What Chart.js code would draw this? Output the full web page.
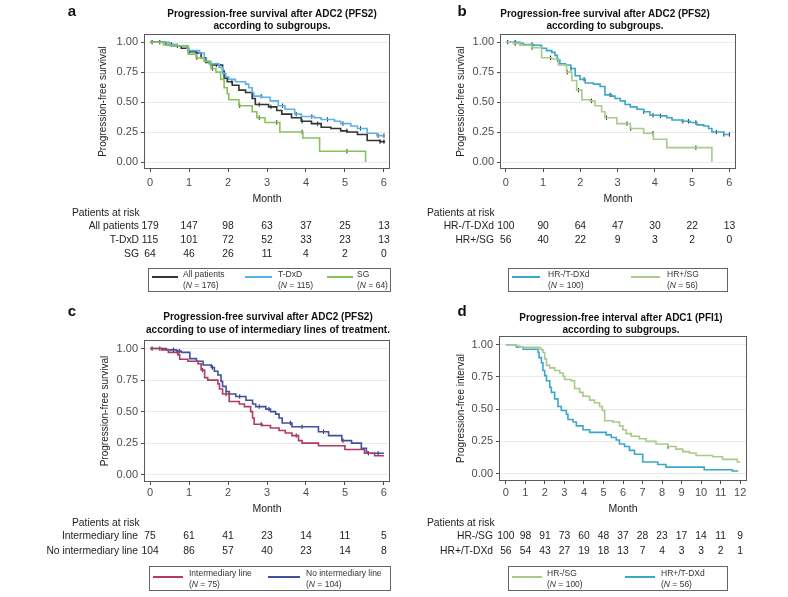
<!DOCTYPE html>
<html><head><meta charset="utf-8">
<script src="https://cdn.jsdelivr.net/npm/chart.js@4.4.0/dist/chart.umd.min.js"></script>
<style>
html,body{margin:0;padding:0;background:#fff;width:788px;height:597px;overflow:hidden;}
canvas{position:absolute;}
</style></head><body>
<script>
// ---------- tick labels ----------
const monthTicks6 = [0, 1, 2, 3, 4, 5, 6];
const monthTicks12 = [0, 1, 2, 3, 4, 5, 6, 7, 8, 9, 10, 11, 12];
const survivalTicks = [0, 0.25, 0.5, 0.75, 1];

// ---------- Panel a ----------
const aAllT = [0, 0.4, 0.6, 0.8, 0.98, 1.18, 1.31, 1.43, 1.55, 1.86, 1.9, 1.98, 2.11, 2.28, 2.45, 2.62, 2.7, 3.04, 3.25, 3.38, 3.63, 3.88, 4.14, 4.39, 4.64, 4.89, 5.06, 5.32, 5.57, 5.9, 6.03];
const aAllS = [1, 0.98, 0.97, 0.95, 0.92, 0.91, 0.87, 0.83, 0.81, 0.76, 0.70, 0.67, 0.64, 0.60, 0.58, 0.53, 0.48, 0.46, 0.43, 0.40, 0.37, 0.34, 0.32, 0.29, 0.28, 0.26, 0.25, 0.23, 0.18, 0.17, 0.17];
const aTdxdT = [0, 0.5, 0.7, 0.95, 1.0, 1.27, 1.39, 1.45, 1.52, 1.77, 1.86, 1.94, 2.02, 2.19, 2.45, 2.53, 2.62, 2.66, 2.87, 3.08, 3.29, 3.46, 3.71, 3.88, 4.22, 4.39, 4.73, 4.89, 5.15, 5.32, 5.57, 5.82, 6.03];
const aTdxdS = [1, 0.98, 0.97, 0.95, 0.93, 0.91, 0.86, 0.84, 0.82, 0.79, 0.74, 0.71, 0.69, 0.67, 0.65, 0.62, 0.58, 0.55, 0.54, 0.51, 0.47, 0.44, 0.40, 0.38, 0.37, 0.355, 0.34, 0.32, 0.30, 0.28, 0.24, 0.22, 0.22];
const aSgT = [0, 0.34, 0.5, 0.98, 1.18, 1.39, 1.56, 1.69, 1.81, 1.9, 1.98, 2.02, 2.28, 2.62, 2.74, 2.95, 3.33, 3.92, 4.35, 5.53];
const aSgS = [1, 0.98, 0.97, 0.90, 0.87, 0.84, 0.78, 0.75, 0.69, 0.62, 0.57, 0.52, 0.47, 0.42, 0.37, 0.33, 0.25, 0.20, 0.09, 0.0];
const aAllCens = [0.05, 0.25, 0.55, 0.7, 1.0, 1.2, 1.7, 2.1, 2.8, 3.1, 3.9, 4.3, 5.05, 5.9, 6.0];
const aTdxdCens = [2.85, 3.4, 3.75, 4.15, 4.55, 4.95, 5.4, 5.85, 6.0];
const aSgCens = [1.2, 1.6, 2.3, 2.8, 3.25, 3.9, 5.05];
const aRiskLabels = ['All patients', 'T-DxD', 'SG'];
const aRiskAll = [179, 147, 98, 63, 37, 25, 13];
const aRiskTdxd = [115, 101, 72, 52, 33, 23, 13];
const aRiskSg = [64, 46, 26, 11, 4, 2, 0];
const aLegendNames = ['All patients', 'T-DxD', 'SG'];
const aLegendN = ['176', '115', '64'];

// ---------- Panel b ----------
const bHrnT = [0, 0.38, 0.47, 0.75, 0.96, 1.09, 1.23, 1.32, 1.38, 1.45, 1.6, 1.74, 1.86, 1.99, 2.13, 2.35, 2.53, 2.66, 2.84, 2.93, 3.07, 3.2, 3.34, 3.52, 3.7, 3.87, 4.14, 4.32, 4.46, 4.73, 4.95, 5.13, 5.31, 5.44, 5.53, 5.85, 6.0];
const bHrnS = [1, 0.99, 0.98, 0.975, 0.95, 0.93, 0.915, 0.89, 0.85, 0.82, 0.81, 0.78, 0.72, 0.69, 0.66, 0.65, 0.63, 0.56, 0.55, 0.53, 0.51, 0.48, 0.46, 0.44, 0.42, 0.39, 0.385, 0.37, 0.35, 0.34, 0.33, 0.31, 0.30, 0.28, 0.25, 0.23, 0.23];
const bHrpT = [0, 0.2, 0.38, 0.69, 0.96, 1.23, 1.41, 1.63, 1.77, 1.9, 2.04, 2.26, 2.39, 2.57, 2.66, 2.98, 3.34, 3.7, 3.96, 4.32, 5.53];
const bHrpS = [1, 0.99, 0.975, 0.955, 0.87, 0.86, 0.81, 0.75, 0.68, 0.60, 0.52, 0.51, 0.47, 0.42, 0.37, 0.32, 0.28, 0.24, 0.19, 0.12, 0.0];
const bHrnCens = [0.05, 0.25, 0.7, 1.4, 1.75, 2.1, 2.8, 3.7, 3.95, 4.15, 4.75, 4.9, 5.1, 5.65, 5.85, 6.0];
const bHrpCens = [0.25, 0.7, 1.2, 1.65, 1.95, 2.3, 2.7, 3.25, 3.35, 3.95, 5.1];
const bRiskLabels = ['HR-/T-DXd', 'HR+/SG'];
const bRiskHrn = [100, 90, 64, 47, 30, 22, 13];
const bRiskHrp = [56, 40, 22, 9, 3, 2, 0];
const bLegendNames = ['HR-/T-DXd', 'HR+/SG'];
const bLegendN = ['100', '56'];

// ---------- Panel c ----------
const cIntT = [0, 0.3, 0.47, 0.72, 0.76, 0.97, 1.23, 1.31, 1.4, 1.48, 1.74, 1.78, 1.86, 2.03, 2.29, 2.42, 2.58, 2.63, 2.67, 2.88, 3.09, 3.31, 3.47, 3.64, 3.81, 3.9, 4.32, 5.0, 5.5, 5.76, 6.0];
const cIntS = [1, 0.99, 0.97, 0.95, 0.915, 0.90, 0.88, 0.83, 0.77, 0.75, 0.72, 0.68, 0.64, 0.58, 0.56, 0.54, 0.50, 0.45, 0.40, 0.39, 0.37, 0.35, 0.33, 0.31, 0.27, 0.25, 0.23, 0.20, 0.17, 0.15, 0.15];
const cNoT = [0, 0.42, 0.68, 0.8, 1.02, 1.19, 1.36, 1.57, 1.65, 1.74, 1.82, 1.86, 1.95, 2.03, 2.2, 2.46, 2.63, 2.71, 2.97, 3.09, 3.22, 3.31, 3.39, 3.64, 4.32, 4.58, 4.92, 5.17, 5.42, 5.55, 5.59, 6.0];
const cNoS = [1, 0.99, 0.98, 0.97, 0.92, 0.90, 0.87, 0.85, 0.82, 0.79, 0.74, 0.70, 0.66, 0.64, 0.62, 0.59, 0.56, 0.54, 0.52, 0.50, 0.48, 0.45, 0.41, 0.38, 0.34, 0.31, 0.27, 0.25, 0.21, 0.18, 0.17, 0.17];
const cIntCens = [0.25, 0.7, 1.35, 1.95, 2.85, 3.75];
const cNoCens = [0.05, 0.6, 0.75, 1.6, 2.3, 2.8, 3.05, 3.6, 3.9, 4.45, 4.95, 5.6, 5.85];
const cRiskLabels = ['Intermediary line', 'No intermediary line'];
const cRiskInt = [75, 61, 41, 23, 14, 11, 5];
const cRiskNo = [104, 86, 57, 40, 23, 14, 8];
const cLegendNames = ['Intermediary line', 'No intermediary line'];
const cLegendN = ['75', '104'];

// ---------- Panel d ----------
const dSgT = [0, 0.54, 0.71, 1.74, 1.82, 1.9, 1.99, 2.08, 2.25, 2.5, 2.76, 2.93, 3.01, 3.35, 3.52, 3.78, 3.95, 4.29, 4.54, 4.8, 4.94, 5.06, 5.48, 5.82, 5.99, 6.16, 6.42, 6.84, 7.18, 7.69, 8.29, 8.71, 9.06, 9.4, 9.74, 10.59, 11.1, 11.86, 12.0];
const dSgS = [1, 0.99, 0.98, 0.97, 0.96, 0.94, 0.89, 0.84, 0.82, 0.80, 0.78, 0.755, 0.73, 0.72, 0.66, 0.63, 0.60, 0.57, 0.55, 0.52, 0.49, 0.41, 0.40, 0.37, 0.34, 0.31, 0.29, 0.27, 0.25, 0.23, 0.21, 0.19, 0.17, 0.16, 0.14, 0.13, 0.11, 0.09, 0.09];
const dTdxdT = [0, 0.54, 0.89, 1.65, 1.7, 1.82, 1.9, 1.99, 2.08, 2.25, 2.33, 2.5, 2.67, 2.84, 3.1, 3.18, 3.44, 3.61, 3.95, 4.29, 5.14, 5.4, 5.65, 5.82, 6.08, 6.33, 6.59, 7.01, 7.78, 8.2, 10.16, 11.6, 11.9];
const dTdxdS = [1, 0.98, 0.965, 0.94, 0.90, 0.86, 0.80, 0.76, 0.72, 0.67, 0.63, 0.58, 0.52, 0.49, 0.46, 0.42, 0.40, 0.37, 0.34, 0.32, 0.30, 0.28, 0.26, 0.23, 0.21, 0.18, 0.15, 0.09, 0.07, 0.05, 0.03, 0.02, 0.02];
const dSgCens = [8.3];
const dRiskLabels = ['HR-/SG', 'HR+/T-DXd'];
const dRiskSg = [100, 98, 91, 73, 60, 48, 37, 28, 23, 17, 14, 11, 9];
const dRiskTdxd = [56, 54, 43, 27, 19, 18, 13, 7, 4, 3, 3, 2, 1];
const dLegendNames = ['HR-/SG', 'HR+/T-DXd'];
const dLegendN = ['100', '56'];

// ---------- styling ----------
const FONT = '"Liberation Sans", Arial, Helvetica, sans-serif';
const C_BLACK = '#333333', C_SKY = '#5ab2e6', C_GREEN = '#86c25a';
const C_TEAL = '#3ba6c8', C_LGREEN = '#a8ca8a', C_RED = '#b23a62', C_NAVY = '#4050a2';

function stepAt(t, ts, ss) {
  let v = ss[0];
  for (let i = 0; i < ts.length; i++) if (ts[i] <= t) v = ss[i];
  return v;
}
function curve(ts, ss, color) {
  return { type: 'line', data: ts.map((t, i) => ({ x: t, y: ss[i] })), stepped: 'before',
    borderColor: color, borderWidth: 1.6, pointRadius: 0, fill: false };
}
function censor(ts, ss, ct) {
  return { type: 'scatter', data: ct.map(t => ({ x: t, y: stepAt(t, ts, ss) })),
    pointStyle: 'line', rotation: 90, pointRadius: 2.2, borderColor: '#222', borderWidth: 1,
    backgroundColor: '#222', showLine: false };
}

function makePanel(p) {
  const cv = document.createElement('canvas');
  cv.width = p.cw; cv.height = p.ch;
  cv.style.left = p.cx + 'px'; cv.style.top = p.cy + 'px';
  cv.style.width = p.cw + 'px'; cv.style.height = p.ch + 'px';
  document.body.appendChild(cv);
  const ox = p.cx, oy = p.cy;
  const yTitleLH = 12, monthLH = 12.6, tickLH = 13.2;
  const padL = p.yTitleX - yTitleLH / 2 - ox;
  const W = p.L - ox - padL;
  const H = p.monthY + monthLH / 2 - p.B;
  const padB = p.ch - (p.B - oy) - H;
  const padT = p.T - oy;
  const padR = p.cw - (p.R - ox);
  const xPad = p.tickY - p.B - 4 - tickLH / 2;

  const extras = {
    id: 'extras',
    afterDraw(chart) {
      const ctx = chart.ctx, a = chart.chartArea, xs = chart.scales.x;
      ctx.save();
      // frame
      ctx.strokeStyle = '#5a5a5a'; ctx.lineWidth = 1;
      ctx.strokeRect(Math.round(a.left) - 0.5, Math.round(a.top) - 0.5, Math.round(a.right - a.left) + 1, Math.round(a.bottom - a.top) + 1);
      // letter
      ctx.fillStyle = '#111';
      ctx.font = 'bold 15px ' + FONT; ctx.textAlign = 'center'; ctx.textBaseline = 'middle';
      ctx.fillText(p.letter, p.letterX - ox, p.letterY - oy);
      // title
      ctx.font = 'bold 10px ' + FONT;
      p.title.forEach((s, i) => ctx.fillText(s, p.titleX - ox, p.titleY[i] - oy));
      // risk table
      ctx.fillStyle = '#222';
      ctx.font = '10.3px ' + FONT; ctx.textAlign = 'left';
      ctx.fillText('Patients at risk', p.riskHeaderX - ox, p.riskHeaderY - oy);
      p.riskRows.forEach((row, r) => {
        const y = p.riskRowY[r] - oy;
        ctx.textAlign = 'right';
        ctx.fillText(p.riskLabels[r], p.riskLabelX - ox, y);
        ctx.textAlign = 'center';
        row.forEach((v, i) => ctx.fillText(String(v), xs.getPixelForValue(p.riskTimes[i]), y));
      });
      // legend
      const b = p.legBox;
      ctx.strokeStyle = '#666'; ctx.lineWidth = 1;
      ctx.strokeRect(b[0] - ox + 0.5, b[1] - oy + 0.5, b[2] - b[0], b[3] - b[1]);
      p.legItems.forEach((it, i) => {
        ctx.strokeStyle = it.color; ctx.lineWidth = 2;
        ctx.beginPath(); ctx.moveTo(it.x1 - ox, p.legLineY - oy); ctx.lineTo(it.x2 - ox, p.legLineY - oy); ctx.stroke();
        ctx.fillStyle = '#333'; ctx.textAlign = 'left';
        ctx.font = '8.5px ' + FONT;
        ctx.fillText(p.legNames[i], it.tx - ox, p.legTextY[0] - oy);
        let x = it.tx - ox; const y2 = p.legTextY[1] - oy;
        ctx.fillText('(', x, y2); x += ctx.measureText('(').width;
        ctx.font = 'italic 8.5px ' + FONT;
        ctx.fillText('N', x, y2); x += ctx.measureText('N').width;
        ctx.font = '8.5px ' + FONT;
        ctx.fillText(' = ' + p.legN[i] + ')', x, y2);
      });
      ctx.restore();
    }
  };

  new Chart(cv, {
    data: { datasets: p.datasets },
    options: {
      responsive: false, animation: false, devicePixelRatio: 1,
      layout: { padding: { left: padL, right: padR, top: padT, bottom: padB } },
      plugins: { legend: { display: false }, tooltip: { enabled: false }, title: { display: false } },
      scales: {
        x: {
          type: 'linear', min: p.xMin, max: p.xMax,
          afterBuildTicks: s => { s.ticks = p.xTicks.map(v => ({ value: v })); },
          afterFit: s => { s.height = H; },
          grid: { drawOnChartArea: false, drawTicks: true, tickLength: 4, tickColor: '#4d4d4d' },
          border: { display: false },
          ticks: { padding: xPad, autoSkip: false, maxRotation: 0, color: '#4d4d4d',
            font: { family: FONT, size: 11 }, callback: v => String(v) },
          title: { display: true, text: 'Month', color: '#222', font: { family: FONT, size: 10.5 },
            padding: { top: 0, bottom: 0 } }
        },
        y: {
          type: 'linear', min: -0.05, max: 1.06,
          afterBuildTicks: s => { s.ticks = survivalTicks.map(v => ({ value: v })); },
          afterFit: s => { s.width = W; },
          grid: { color: '#ebebeb', lineWidth: 1, drawTicks: true, tickLength: 4, tickColor: '#4d4d4d' },
          border: { display: false },
          ticks: { padding: 3, color: '#4d4d4d', font: { family: FONT, size: 11 },
            callback: v => Number(v).toFixed(2) },
          title: { display: true, text: p.yTitle, color: '#222', font: { family: FONT, size: 10 },
            padding: { top: 0, bottom: 0 } }
        }
      }
    },
    plugins: [extras]
  });
}

makePanel({
  cx: 0, cy: 0, cw: 394, ch: 298, L: 145, R: 392, T: 35, B: 168,
  xMin: -0.13, xMax: 6.13, xTicks: monthTicks6, tickY: 183, monthY: 199, yTitleX: 103,
  yTitle: 'Progression-free survival',
  letter: 'a', letterX: 72, letterY: 12,
  title: ['Progression-free survival after ADC2 (PFS2)', 'according to subgroups.'], titleX: 272, titleY: [14, 26],
  riskHeaderX: 72, riskHeaderY: 213, riskLabelX: 139, riskRowY: [226, 240, 254],
  riskLabels: aRiskLabels, riskRows: [aRiskAll, aRiskTdxd, aRiskSg], riskTimes: monthTicks6,
  legBox: [148, 268, 390, 291], legLineY: 277, legTextY: [275, 286],
  legItems: [{ x1: 152, x2: 178, tx: 183, color: C_BLACK }, { x1: 245, x2: 272, tx: 278, color: C_SKY }, { x1: 327, x2: 353, tx: 357, color: C_GREEN }],
  legNames: aLegendNames, legN: aLegendN,
  datasets: [curve(aSgT, aSgS, C_GREEN), curve(aTdxdT, aTdxdS, C_SKY), curve(aAllT, aAllS, C_BLACK),
    censor(aSgT, aSgS, aSgCens), censor(aTdxdT, aTdxdS, aTdxdCens), censor(aAllT, aAllS, aAllCens)]
});

makePanel({
  cx: 394, cy: 0, cw: 394, ch: 298, L: 501, R: 735, T: 35, B: 168,
  xMin: -0.13, xMax: 6.15, xTicks: monthTicks6, tickY: 183, monthY: 199, yTitleX: 461,
  yTitle: 'Progression-free survival',
  letter: 'b', letterX: 462, letterY: 12,
  title: ['Progression-free survival after ADC2 (PFS2)', 'according to subgroups.'], titleX: 605, titleY: [14, 26],
  riskHeaderX: 427, riskHeaderY: 213, riskLabelX: 494, riskRowY: [226, 240],
  riskLabels: bRiskLabels, riskRows: [bRiskHrn, bRiskHrp], riskTimes: monthTicks6,
  legBox: [508, 268, 727, 291], legLineY: 277, legTextY: [275, 286],
  legItems: [{ x1: 512, x2: 540, tx: 548, color: C_TEAL }, { x1: 631, x2: 660, tx: 667, color: C_LGREEN }],
  legNames: bLegendNames, legN: bLegendN,
  datasets: [curve(bHrpT, bHrpS, C_LGREEN), curve(bHrnT, bHrnS, C_TEAL),
    censor(bHrpT, bHrpS, bHrpCens), censor(bHrnT, bHrnS, bHrnCens)]
});

makePanel({
  cx: 0, cy: 298, cw: 394, ch: 299, L: 145, R: 391, T: 341, B: 481,
  xMin: -0.13, xMax: 6.13, xTicks: monthTicks6, tickY: 493, monthY: 509, yTitleX: 105,
  yTitle: 'Progression-free survival',
  letter: 'c', letterX: 72, letterY: 312,
  title: ['Progression-free survival after ADC2 (PFS2)', 'according to use of intermediary lines of treatment.'], titleX: 268, titleY: [317, 330],
  riskHeaderX: 72, riskHeaderY: 523, riskLabelX: 138, riskRowY: [536, 551],
  riskLabels: cRiskLabels, riskRows: [cRiskInt, cRiskNo], riskTimes: monthTicks6,
  legBox: [149, 566, 390, 590], legLineY: 577, legTextY: [574, 585],
  legItems: [{ x1: 153, x2: 183, tx: 189, color: C_RED }, { x1: 268, x2: 300, tx: 306, color: C_NAVY }],
  legNames: cLegendNames, legN: cLegendN,
  datasets: [curve(cIntT, cIntS, C_RED), curve(cNoT, cNoS, C_NAVY),
    censor(cIntT, cIntS, cIntCens), censor(cNoT, cNoS, cNoCens)]
});

makePanel({
  cx: 394, cy: 298, cw: 394, ch: 299, L: 500, R: 746, T: 337, B: 480,
  xMin: -0.3, xMax: 12.3, xTicks: monthTicks12, tickY: 493, monthY: 509, yTitleX: 461,
  yTitle: 'Progression-free interval',
  letter: 'd', letterX: 462, letterY: 312,
  title: ['Progression-free interval after ADC1 (PFI1)', 'according to subgroups.'], titleX: 621, titleY: [318, 330],
  riskHeaderX: 427, riskHeaderY: 523, riskLabelX: 493, riskRowY: [536, 551],
  riskLabels: dRiskLabels, riskRows: [dRiskSg, dRiskTdxd], riskTimes: monthTicks12,
  legBox: [508, 566, 727, 590], legLineY: 577, legTextY: [574, 585],
  legItems: [{ x1: 512, x2: 542, tx: 547, color: C_LGREEN }, { x1: 625, x2: 655, tx: 661, color: C_TEAL }],
  legNames: dLegendNames, legN: dLegendN,
  datasets: [curve(dSgT, dSgS, C_LGREEN), curve(dTdxdT, dTdxdS, C_TEAL), censor(dSgT, dSgS, dSgCens)]
});
</script>
</body></html>
